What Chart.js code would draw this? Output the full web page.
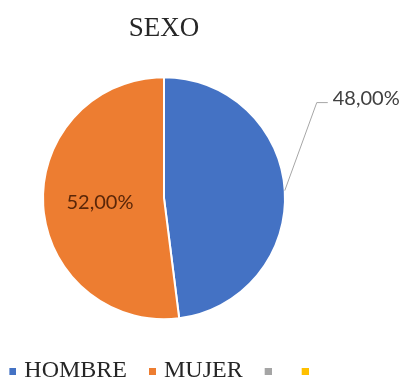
<!DOCTYPE html>
<html>
<head>
<meta charset="utf-8">
<script src="https://cdn.jsdelivr.net/npm/chart.js@4"></script>
<style>
  html, body { margin: 0; padding: 0; background: #fff; overflow: hidden; }
  #wrap { position: relative; width: 406px; height: 393px; }
</style>
</head>
<body>
<div id="wrap"><canvas id="sexoChart"></canvas></div>
<script>
const sexLabels = ['HOMBRE', 'MUJER', '', '']
const sexValues = [48, 52, 0, 0]
const sliceColors = ['#4472C4', '#ED7D31', '#A5A5A5', '#FFC000']

function formatPct(v) {
  return v.toFixed(2).replace('.', ',') + '%'
}

// small square legend marker, drawn on the right side of its canvas
// so it sits close to the label text
function makeMarker(color) {
  const c = document.createElement('canvas')
  c.width = 9
  c.height = 7
  const g = c.getContext('2d')
  g.fillStyle = color
  g.fillRect(2, 0, 7, 7)
  return c
}

// negative left padding is ignored for the chart area, so move it by hand
const pieShift = {
  id: 'pieShift',
  afterLayout(chart, args, opts) {
    chart.chartArea.left += opts.dx
    chart.chartArea.right += opts.dx
  }
}

// percentage labels: inside the slice or outside with a leader line
const pieLabels = {
  id: 'pieLabels',
  afterDatasetsDraw(chart, args, opts) {
    const { ctx } = chart
    const meta = chart.getDatasetMeta(0)
    const values = chart.data.datasets[0].data
    ctx.save()
    ctx.font = opts.font
    ctx.textBaseline = 'middle'
    meta.data.forEach((arc, i) => {
      if (!values[i]) return
      const { x, y, startAngle, endAngle, outerRadius } =
        arc.getProps(['x', 'y', 'startAngle', 'endAngle', 'outerRadius'], true)
      const mid = (startAngle + endAngle) / 2
      const text = formatPct(values[i])
      if (opts.placement[i] === 'outside') {
        const ex = x + Math.cos(mid) * outerRadius
        const ey = y + Math.sin(mid) * outerRadius
        const bx = ex + opts.leader.dx
        const by = ey + opts.leader.dy
        ctx.strokeStyle = opts.leader.color
        ctx.lineWidth = 1
        ctx.beginPath()
        ctx.moveTo(ex, ey)
        ctx.lineTo(bx, by)
        ctx.lineTo(bx + opts.leader.stub, by)
        ctx.stroke()
        ctx.fillStyle = opts.outsideColor
        ctx.textAlign = 'left'
        ctx.fillText(text, bx + opts.leader.stub + 5, by - 4)
      } else {
        const r = outerRadius * opts.insideRatio
        ctx.fillStyle = opts.insideColor
        ctx.textAlign = 'center'
        ctx.fillText(text, x + Math.cos(mid) * r, y + Math.sin(mid) * r)
      }
    })
    ctx.restore()
  }
}

const defaultLabels = Chart.overrides.pie.plugins.legend.labels.generateLabels

new Chart(document.getElementById('sexoChart'), {
  type: 'pie',
  data: {
    labels: sexLabels,
    datasets: [{
      data: sexValues,
      backgroundColor: sliceColors,
      borderColor: '#ffffff',
      borderWidth: 2
    }]
  },
  options: {
    responsive: true,
    maintainAspectRatio: false,
    animation: false,
    radius: 121,
    // pie sits left of the canvas centre, the outside label uses the right margin
    layout: { padding: { top: 0, right: 62, bottom: 0, left: -16 } },
    plugins: {
      tooltip: { enabled: false },
      pieShift: { dx: -8 },
      title: {
        display: true,
        text: 'SEXO',
        color: '#262626',
        font: { family: 'Liberation Serif', size: 27, weight: 'normal' },
        padding: { top: 13, bottom: 16 }
      },
      legend: {
        position: 'bottom',
        labels: {
          usePointStyle: true,
          boxWidth: 1,
          boxHeight: 7,
          padding: 24,
          color: '#262626',
          font: { family: 'Liberation Serif', size: 24 },
          generateLabels(chart) {
            return defaultLabels(chart).map(item => ({
              ...item,
              lineWidth: 0,
              pointStyle: makeMarker(sliceColors[item.index])
            }))
          }
        }
      },
      pieLabels: {
        font: '20px Lato',
        placement: ['outside', 'inside', 'inside', 'inside'],
        insideRatio: 0.53,
        insideColor: '#5a2608',
        outsideColor: '#404040',
        leader: { dx: 32, dy: -88, stub: 11, color: '#a6a6a6' }
      }
    }
  },
  plugins: [pieShift, pieLabels]
})
</script>
</body>
</html>
